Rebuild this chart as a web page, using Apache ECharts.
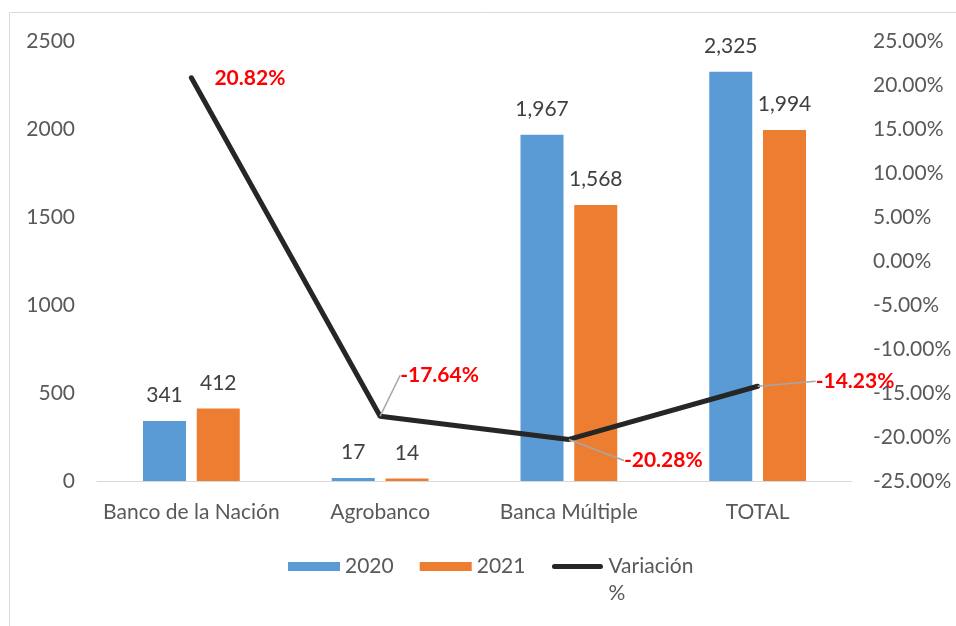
<!DOCTYPE html>
<html>
<head>
<meta charset="utf-8">
<script src="https://cdn.jsdelivr.net/npm/echarts@6/dist/echarts.min.js"></script>
<style>
  html, body { margin: 0; padding: 0; background: #fff; }
  #chart { width: 956px; height: 626px; }
</style>
</head>
<body>
<div id="chart"></div>
<script>
var categories = ['Banco de la Nación', 'Agrobanco', 'Banca Múltiple', 'TOTAL'];
var values2020 = [341, 17, 1967, 2325];
var values2021 = [412, 14, 1568, 1994];
var variacion = [20.82, -17.64, -20.28, -14.23];
var leftTicks = [0, 500, 1000, 1500, 2000, 2500];
var rightTicks = [-25, -20, -15, -10, -5, 0, 5, 10, 15, 20, 25];

// label offsets for the variation line (px from default 'right' spot)
var varLabelShift = [
  { dx: 18, dy: 1, line: false },
  { dx: 15, dy: -41, line: true },
  { dx: 50, dy: 21, line: true },
  { dx: 53, dy: -5, line: true }
];

var chartDom = document.getElementById('chart');
var myChart = echarts.init(chartDom);
var font = 'Lato, "Liberation Sans", sans-serif';
var fs = 21;

var lineData = variacion.map(function (v, i) {
  var s = varLabelShift[i];
  return {
    value: v,
    label: s.line ? {} : { distance: 5 + s.dx },
    labelLine: { show: s.line }
  };
});

var option = {
  animation: false,
  textStyle: { fontFamily: font },
  graphic: [
    {
      type: 'rect',
      shape: { x: 9.5, y: 12.5, width: 1200, height: 1200 },
      style: { fill: 'none', stroke: '#d9d9d9', lineWidth: 1 },
      silent: true
    }
  ],
  grid: { left: 97, right: 104, top: 41, bottom: 145 },
  legend: {
    left: 288,
    top: 526,
    padding: 0,
    itemWidth: 52,
    itemHeight: 9,
    itemGap: 26,
    textStyle: { color: '#595959', fontSize: fs, fontFamily: font, lineHeight: 27 },
    formatter: function (name) {
      return name === 'Variación %' ? ' \nVariación\n%' : name;
    },
    data: [
      { name: '2020', icon: 'rect' },
      { name: '2021', icon: 'rect' },
      {
        name: 'Variación %',
        icon: 'path://M3,1 L49,1 A2.5,2.5 0 0 1 49,6 L3,6 A2.5,2.5 0 0 1 3,1 Z M0,0 M52,7',
        itemStyle: { color: '#262626' }
      }
    ]
  },
  xAxis: {
    type: 'category',
    data: categories,
    axisTick: { show: false },
    axisLine: { lineStyle: { color: '#d9d9d9', width: 1 } },
    axisLabel: { color: '#595959', fontSize: fs, margin: 21, interval: 0, fontFamily: font }
  },
  yAxis: [
    {
      type: 'value',
      min: leftTicks[0],
      max: leftTicks[leftTicks.length - 1],
      interval: 500,
      splitLine: { show: false },
      axisLine: { show: false },
      axisLabel: {
        color: '#595959', fontSize: fs, margin: 22, fontFamily: font,
        formatter: function (v) { return String(v); }
      }
    },
    {
      type: 'value',
      min: rightTicks[0],
      max: rightTicks[rightTicks.length - 1],
      interval: 5,
      splitLine: { show: false },
      axisLine: { show: false },
      axisLabel: {
        color: '#595959', fontSize: fs, margin: 21, fontFamily: font,
        formatter: function (v) { return v.toFixed(2) + '%'; }
      }
    }
  ],
  series: [
    {
      name: '2020',
      type: 'bar',
      data: values2020,
      barWidth: 43,
      barGap: '25%',
      itemStyle: { color: '#5b9bd5' },
      label: {
        show: true, position: 'top', distance: 15, color: '#404040', fontSize: fs, fontFamily: font,
        formatter: function (p) { return p.value.toLocaleString('en-US'); }
      }
    },
    {
      name: '2021',
      type: 'bar',
      data: values2021,
      barWidth: 43,
      itemStyle: { color: '#ed7d31' },
      label: {
        show: true, position: 'top', distance: 15, color: '#404040', fontSize: fs, fontFamily: font,
        formatter: function (p) { return p.value.toLocaleString('en-US'); }
      }
    },
    {
      name: 'Variación %',
      type: 'line',
      yAxisIndex: 1,
      data: lineData,
      symbol: 'circle',
      symbolSize: 0.1,
      showSymbol: true,
      lineStyle: { color: '#262626', width: 5, cap: 'round', join: 'round' },
      itemStyle: { color: '#262626' },
      z: 5,
      label: {
        show: true, position: 'right', distance: 5, color: '#ff0000', fontSize: fs, fontWeight: 'bold', fontFamily: font,
        formatter: function (p) { return p.value.toFixed(2) + '%'; }
      },
      labelLine: { lineStyle: { color: '#a6a6a6', width: 1.5 } },
      labelLayout: function (params) {
        var s = varLabelShift[params.dataIndex];
        if (!s.line) return { hideOverlap: false };
        return { dx: s.dx, dy: s.dy, hideOverlap: false };
      }
    }
  ]
};

option && myChart.setOption(option);
</script>
</body>
</html>
